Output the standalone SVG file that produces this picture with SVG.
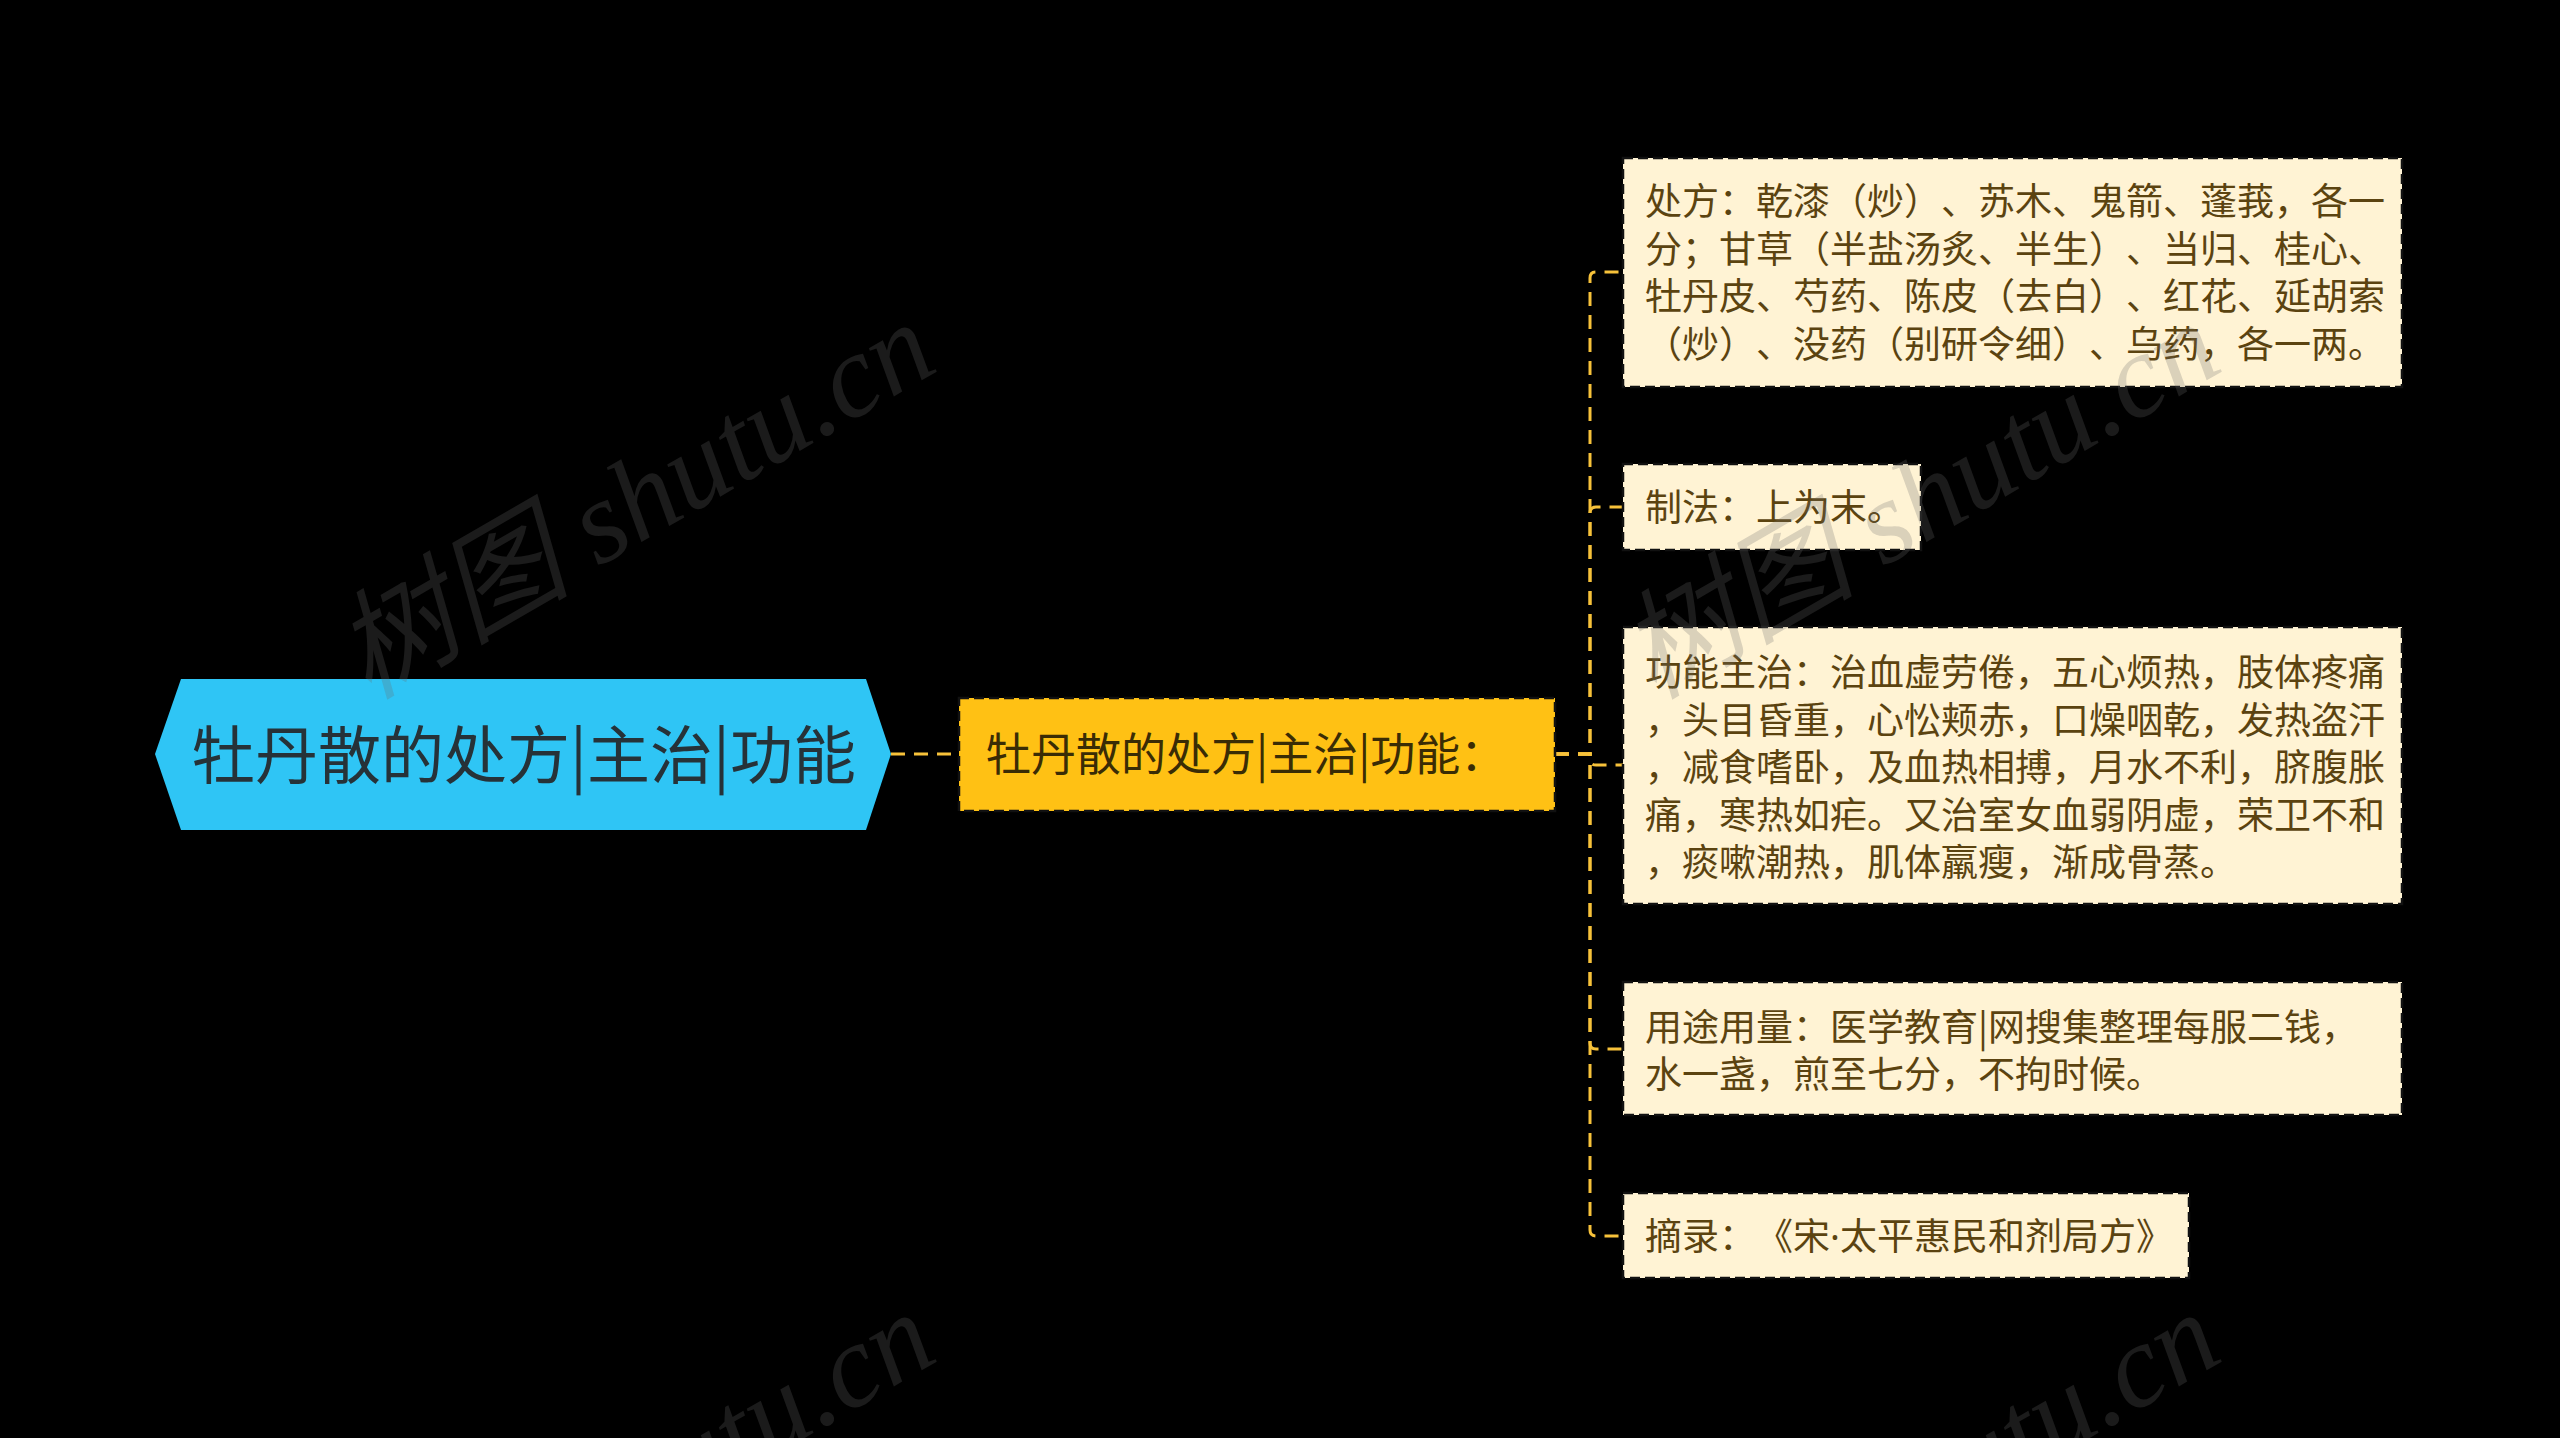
<svg xmlns="http://www.w3.org/2000/svg" width="2560" height="1438" viewBox="0 0 2560 1438">
<style>
text{text-spacing-trim:space-all}
.cn{font-family:"Noto Sans CJK SC","Noto Sans",sans-serif}
.leaf{fill:#FFF3D4;stroke:#111;stroke-width:2.5;stroke-dasharray:10 5}
.lt{font-size:37px;fill:#5B4310}
.dot{font-family:"Noto Sans",sans-serif}
.conn{fill:none;stroke:#F7C23A;stroke-width:3;stroke-dasharray:14 9}
.wm{font-family:"Liberation Serif","Noto Sans CJK SC",serif;font-style:italic;font-size:118px;fill:#6a6a6a;fill-opacity:0.25}
</style>
<rect x="0" y="0" width="2560" height="1438" fill="#000"/>
<g id="connectors">
<path class="conn" d="M891 754 H959"/>
<path class="conn" d="M1555 754 H1590 V278 Q1590 272 1596 272 H1623"/>
<path class="conn" d="M1555 754 H1590 V513 Q1590 507 1596 507 H1623"/>
<path class="conn" d="M1555 754 H1590 V759 Q1590 765 1596 765 H1623"/>
<path class="conn" d="M1555 754 H1590 V1043 Q1590 1049 1596 1049 H1623"/>
<path class="conn" d="M1555 754 H1590 V1230 Q1590 1236 1596 1236 H1623"/>
</g>
<g id="root">
<polygon points="155,754 181,679 866,679 891,754 866,830 181,830" fill="#2FC5F5"/>
<text class="cn" x="524" y="778" text-anchor="middle" font-size="63" fill="#263238">牡丹散的处方|主治|功能</text>
</g>
<g id="main">
<rect x="959" y="698" width="596" height="113" fill="#FFC114" stroke="#111" stroke-width="2.5" stroke-dasharray="10 5"/>
<text class="cn" x="986" y="771" font-size="45" fill="#3A2C05">牡丹散的处方|主治|功能：</text>
</g>
<g id="leaf1">
<rect class="leaf" x="1623" y="158" width="779" height="229"/>
<text class="cn lt"><tspan x="1645" y="215">处方：乾漆（炒）、苏木、鬼箭、蓬莪，各一</tspan><tspan x="1645" y="262.5">分；甘草（半盐汤炙、半生）、当归、桂心、</tspan><tspan x="1645" y="310">牡丹皮、芍药、陈皮（去白）、红花、延胡索</tspan><tspan x="1645" y="357.5">（炒）、没药（别研令细）、乌药，各一两。</tspan></text>
</g>
<g id="leaf2">
<rect class="leaf" x="1623" y="464" width="298" height="86"/>
<text class="cn lt" x="1645" y="521">制法：上为末。</text>
</g>
<g id="leaf3">
<rect class="leaf" x="1623" y="627" width="779" height="277"/>
<text class="cn lt"><tspan x="1645" y="686">功能主治：治血虚劳倦，五心烦热，肢体疼痛</tspan><tspan x="1645" y="733.5">，头目昏重，心忪颊赤，口燥咽乾，发热盗汗</tspan><tspan x="1645" y="781">，减食嗜卧，及血热相搏，月水不利，脐腹胀</tspan><tspan x="1645" y="828.5">痛，寒热如疟。又治室女血弱阴虚，荣卫不和</tspan><tspan x="1645" y="876">，痰嗽潮热，肌体羸瘦，渐成骨蒸。</tspan></text>
</g>
<g id="leaf4">
<rect class="leaf" x="1623" y="982" width="779" height="133"/>
<text class="cn lt"><tspan x="1645" y="1040.5">用途用量：医学教育|网搜集整理每服二钱，</tspan><tspan x="1645" y="1088">水一盏，煎至七分，不拘时候。</tspan></text>
</g>
<g id="leaf5">
<rect class="leaf" x="1623" y="1193" width="566" height="85"/>
<text class="cn lt" x="1645" y="1250">摘录：《宋<tspan class="dot">·</tspan>太平惠民和剂局方》</text>
</g>
<g id="watermarks">
<text class="wm" x="368" y="700" transform="rotate(-30 368 700)">树图 shutu.cn</text>
<text class="wm" x="1653" y="700" transform="rotate(-30 1653 700)">树图 shutu.cn</text>
<text class="wm" x="368" y="1690" transform="rotate(-30 368 1690)">树图 shutu.cn</text>
<text class="wm" x="1653" y="1690" transform="rotate(-30 1653 1690)">树图 shutu.cn</text>
</g>
</svg>
